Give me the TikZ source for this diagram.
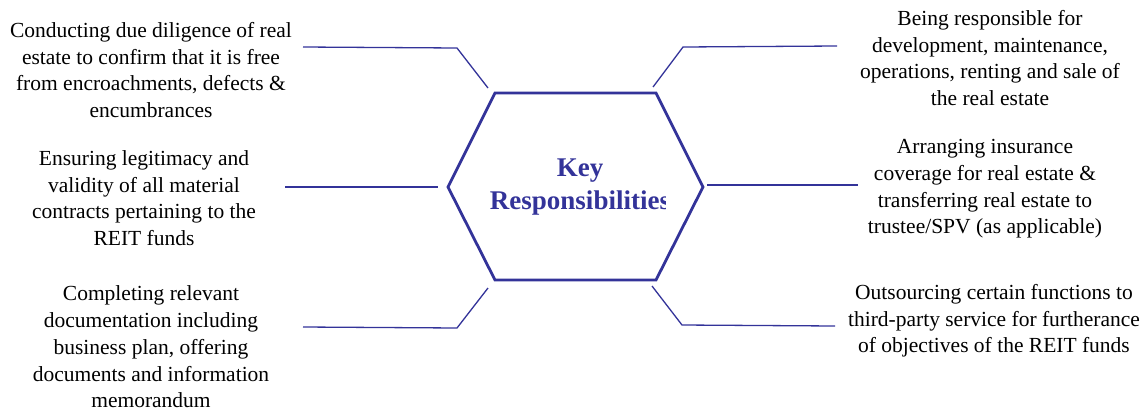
\documentclass[tikz,border=0pt]{standalone}
\usepackage{fontspec}
\setmainfont{Liberation Serif}
\definecolor{hexblue}{HTML}{333399}
\tikzset{
  duty/.style={align=center, inner sep=0pt, font=\fontsize{21.5}{26.7}\selectfont},
  link/.style={draw=hexblue, line width=1.3pt},
}
\begin{document}
\begin{tikzpicture}[x=1pt,y=-1pt]
\useasboundingbox (0,0) rectangle (1141,410);

% hexagon
\coordinate (hl) at (448,187);
\coordinate (htl) at (495,93);
\coordinate (htr) at (656,93);
\coordinate (hr) at (703,187);
\coordinate (hbr) at (656,280);
\coordinate (hbl) at (495,280);
\path[draw=hexblue,line width=2.8pt,line join=miter] (hl) -- (htl) -- (htr) -- (hr) -- (hbr) -- (hbl) -- cycle;
\begin{scope}
\clip (450,95) rectangle (665,278);
\node[align=center,inner sep=0pt,text=hexblue,font=\fontsize{27}{33}\selectfont\bfseries] (key) at (580,187) {Key\\Responsibilities};
\end{scope}

% responsibilities
\node[duty] (dd) at (151,70) {Conducting due diligence of real\\estate to confirm that it is free\\from encroachments, defects \&\\encumbrances};
\node[duty] (legit) at (144,198) {Ensuring legitimacy and\\validity of all material\\contracts pertaining to the\\REIT funds};
\node[duty] (docs) at (151,347) {Completing relevant\\documentation including\\business plan, offering\\documents and information\\memorandum};
\node[duty] (dev) at (990,58) {Being responsible for\\development, maintenance,\\operations, renting and sale of\\the real estate};
\node[duty] (ins) at (985,189) {Arranging insurance\\coverage for real estate \&\\transferring real estate to\\trustee/SPV (as applicable)};
\node[duty] (out) at (994,321) {Outsourcing certain functions to\\third-party service for furtherance\\of objectives of the REIT funds};

% connectors
\coordinate (dd1) at (303,47);
\coordinate (dd2) at (457,48);
\coordinate (dd3) at (488,88);
\coordinate (legit1) at (285,187);
\coordinate (legit2) at (438,187);
\coordinate (docs1) at (303,327);
\coordinate (docs2) at (457,328);
\coordinate (docs3) at (488,288);
\coordinate (dev1) at (837,46);
\coordinate (dev2) at (683,47);
\coordinate (dev3) at (653,87);
\coordinate (ins1) at (858,185);
\coordinate (ins2) at (707,185);
\coordinate (out1) at (835,326);
\coordinate (out2) at (682,325);
\coordinate (out3) at (652,286);
\path[link] (dd1) -- (dd2) -- (dd3);
\path[link] (legit1) -- (legit2);
\path[link] (docs1) -- (docs2) -- (docs3);
\path[link] (dev1) -- (dev2) -- (dev3);
\path[link] (ins1) -- (ins2);
\path[link] (out1) -- (out2) -- (out3);
\end{tikzpicture}
\end{document}
